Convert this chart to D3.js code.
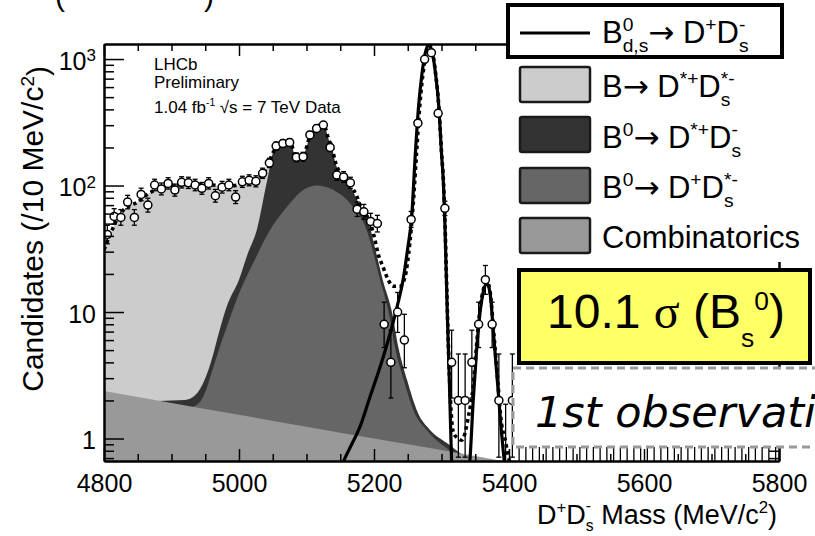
<!DOCTYPE html>
<html><head><meta charset="utf-8">
<script src="https://cdn.jsdelivr.net/npm/d3@7"></script>
<style>
body{margin:0;background:#fff}
svg{display:block}
text{font-family:"Liberation Sans",Arial,sans-serif;fill:#000;white-space:pre}
</style>
</head><body><svg id="c" width="815" height="536"></svg>
<script>
// ---------------- data ----------------
const binStart = 4805, binWidth = 10;
const counts = [41,57,56,74,56,85,70,101,94,104,
  92,106,105,101,95,104,83,97,101,81,
  107,110,108,125,151,205,215,219,167,169,
  251,283,301,200,121,117,105,65,62,52,
  50,8,4,10,6,54,311,994,1122,372,
  66,4,2,2,4,8,18,8,2,0,
  2,0,0,0,0,0,0,0,0,0,
  0,0,0,0,0,0,0,0,0,0,
  0,0,0,0,0,0,0,0,0,0,
  0,0,0,0,0,0,0,0,0,0];
const xTicks = [4800,5000,5200,5400,5600,5800];
const yTicks = [1,10,100,1000];

const combTop = [[4800,2.37],[4900,1.91],[5000,1.54],[5100,1.24],[5200,1.0],[5300,0.81],[5400,0.65]];
const medTop = [[4932,1.78],[4947,2.14],[4962,3.67],[4975,6.0],[4985,8.5],[5000,14],[5021,24.4],[5046,44.5],[5071,67.5],[5095,92],[5115,100],[5140,92],[5169,67.5],[5189,44.5],[5200,28],[5209,17.9],[5222,9.8],[5231,5.3],[5244,2.9],[5260,1.6],[5278,1.17],[5300,0.9],[5320,0.76]];
const darkTop = [[4880,1.98],[4900,2.0],[4920,2.02],[4935,2.2],[4950,3.0],[4960,4.3],[4970,6.8],[4983,11.5],[5000,18],[5012,28],[5027,46],[5041,105],[5053,200],[5060,215],[5068,228],[5076,222],[5084,168],[5090,165],[5097,180],[5105,245],[5112,285],[5120,302],[5127,290],[5133,230],[5138,198],[5142,157],[5150,122],[5164,101],[5175,77],[5183,64],[5190,56],[5201,33],[5213,17.9],[5227,9.8],[5236,5.3],[5249,2.9],[5265,1.6],[5283,1.17],[5308,0.92],[5330,0.75]];
const lightTop = [[4800,31],[4810,42],[4820,55],[4830,65],[4840,70],[4850,74],[4860,82],[4870,89],[4880,95],[4890,98],[4900,100],[4920,102],[4940,102],[4960,101],[4980,99],[5000,101],[5010,104],[5020,108],[5030,115],[5040,135],[5050,180],[5058,210],[5064,220],[5070,0.3]];
const totalFit = [[4800,31],[4810,42],[4820,55],[4830,65],[4840,70],[4850,74],[4860,82],[4870,89],[4880,95],[4890,98],[4900,100],[4920,102],[4940,102],[4960,101],[4980,99],[5000,101],[5010,104],[5020,108],[5030,115],[5040,135],[5050,180],[5058,210],[5068,228],[5076,222],[5084,168],[5090,165],[5097,180],[5105,245],[5112,285],[5120,302],[5127,290],[5133,230],[5138,200],[5142,159],[5150,125],[5164,104],[5175,81],[5182,64],[5194,52],[5201,38],[5206,29],[5213,23],[5221,18],[5228,16],[5239,16],[5246,19],[5253,35],[5258,70],[5263,180],[5268,440],[5273,800],[5278,1150],[5281,1290],[5286,1160],[5291,790],[5296,425],[5300,185],[5303,105],[5305,55],[5308,14],[5311,4],[5314,1.7],[5318,1.1],[5325,1.0],[5330,0.97],[5340,1.5],[5347,2.6],[5352,5.5],[5357,10.5],[5362,15],[5367,17.5],[5372,14.5],[5377,7.3],[5383,3.0],[5389,1.3],[5394,1.0],[5399,0.72],[5404,0.6]];
const signal = [[5150,0.55],[5155,0.66],[5167,0.9],[5179,1.23],[5194,2.13],[5209,3.67],[5224,6.8],[5234,10.9],[5243,17.9],[5250,32],[5256,58],[5261,170],[5266,420],[5271,760],[5276,1120],[5281,1290],[5286,1150],[5291,780],[5296,420],[5300,180],[5303,100],[5305,50],[5308.6,9.8],[5311.6,2.9],[5313.6,1.17],[5315,0.66],[5317,0.45],[5329,0.2],[5339,0.45],[5342,0.66],[5347,2.0],[5352,5.0],[5357,9.8],[5362,14.5],[5367,16.9],[5372,14.1],[5377,6.8],[5383,2.75],[5389,1.1],[5393,0.66],[5396,0.45]];

// ---------------- setup ----------------
const svg = d3.select('#c');
const L = 104, R = 779, T = 44, B = 461;
const x = d3.scaleLinear().domain([4800,5800]).range([L,R]);
const y = d3.scaleLog().domain([0.664,1315]).range([B,T]);

svg.append('defs').append('clipPath').attr('id','plot')
  .append('rect').attr('x',L).attr('y',T).attr('width',R-L).attr('height',B-T);
const plot = svg.append('g').attr('clip-path','url(#plot)');

function areaOf(arr, fill){
  plot.append('path').datum(arr).attr('fill',fill).attr('stroke','none')
    .attr('d', d3.area().x(d=>x(d[0])).y0(B+5).y1(d=>y(d[1])).curve(d3.curveMonotoneX));
}
areaOf(lightTop,'#cccccc');
areaOf(darkTop,'#333333');
areaOf(medTop,'#666666');
areaOf(combTop,'#999999');

const line = d3.line().x(d=>x(d[0])).y(d=>y(d[1])).curve(d3.curveMonotoneX);
plot.append('path').datum(signal).attr('fill','none').attr('stroke','#000').attr('stroke-width',3.2).attr('d',line);
plot.append('path').datum(totalFit).attr('fill','none').attr('stroke','#000').attr('stroke-width',3.6)
  .attr('stroke-dasharray','3.5,3.5').attr('d',line);

// data points with Poisson (Gehrels) errors
const pts = counts.map((n,i)=>({m: binStart + i*binWidth, n,
  hi: n + Math.sqrt(n+0.75) + 1,
  lo: n===0 ? 0 : n*Math.pow(1 - 1/(9*n) - 1/(3*Math.sqrt(n)),3)}));
const pg = plot.append('g');
pts.forEach(p=>{
  const px = x(p.m);
  const yl = p.lo>0 ? y(p.lo) : B+10;
  const yh = y(p.hi);
  pg.append('line').attr('x1',px).attr('x2',px).attr('y1',yl).attr('y2',yh).attr('stroke','#000').attr('stroke-width',1.3);
  pg.append('line').attr('x1',px-2.5).attr('x2',px+2.5).attr('y1',yh).attr('y2',yh).attr('stroke','#000').attr('stroke-width',1.3);
  if (p.lo>0) pg.append('line').attr('x1',px-2.5).attr('x2',px+2.5).attr('y1',yl).attr('y2',yl).attr('stroke','#000').attr('stroke-width',1.3);
  if (p.n>0) pg.append('circle').attr('cx',px).attr('cy',y(p.n)).attr('r',4).attr('fill','#fff').attr('stroke','#000').attr('stroke-width',1.5);
});

// ---------------- axes ----------------
const minorX = d3.range(4800,5801,50).filter(v=>v%200!==0);
const minorY = [0.7,0.8,0.9,2,3,4,5,6,7,8,9,20,30,40,50,60,70,80,90,200,300,400,500,600,700,800,900];
function styleAxis(g){
  g.selectAll('path.domain').attr('stroke','#000').attr('stroke-width',2);
  g.selectAll('.tick line').attr('stroke','#000').attr('stroke-width',1.5);
}
const gxb = svg.append('g').attr('transform',`translate(0,${B})`)
  .call(d3.axisBottom(x).tickValues(xTicks).tickSize(-12).tickSizeOuter(0).tickPadding(13).tickFormat(d3.format('d')));
gxb.selectAll('text').style('font-size','25px').style('font-family','"Liberation Sans",Arial,sans-serif');
svg.append('g').attr('transform',`translate(0,${B})`).call(d3.axisBottom(x).tickValues(minorX).tickSize(-7).tickSizeOuter(0).tickFormat('')).call(styleAxis);
styleAxis(gxb);
svg.append('g').attr('transform',`translate(0,${T})`).call(d3.axisTop(x).tickValues(xTicks).tickSize(-12).tickSizeOuter(0).tickFormat('')).call(styleAxis);
svg.append('g').attr('transform',`translate(0,${T})`).call(d3.axisTop(x).tickValues(minorX).tickSize(-7).tickSizeOuter(0).tickFormat('')).call(styleAxis);

const gyl = svg.append('g').attr('transform',`translate(${L},0)`)
  .call(d3.axisLeft(y).tickValues(yTicks).tickSize(-20).tickSizeOuter(0).tickPadding(8).tickFormat(d3.format('d')));
styleAxis(gyl);
gyl.selectAll('text').style('font-size','25px').style('font-family','"Liberation Sans",Arial,sans-serif').attr('dy','0.4em')
  .each(function(d){
    if (d>=100){
      const t = d3.select(this); t.text('10');
      t.append('tspan').attr('dy','-0.5em').style('font-size','17px').text(d===100?'2':'3');
    }
  });
svg.append('g').attr('transform',`translate(${L},0)`).call(d3.axisLeft(y).tickValues(minorY).tickSize(-10).tickSizeOuter(0).tickFormat('')).call(styleAxis);
svg.append('g').attr('transform',`translate(${R},0)`).call(d3.axisRight(y).tickValues(yTicks).tickSize(-20).tickSizeOuter(0).tickFormat('')).call(styleAxis);
svg.append('g').attr('transform',`translate(${R},0)`).call(d3.axisRight(y).tickValues(minorY).tickSize(-10).tickSizeOuter(0).tickFormat('')).call(styleAxis);

// ---------------- rich text helper ----------------
const ARROW = '"DejaVu Sans",sans-serif';
function rich(g, x0, y0, size, parts){
  let cx = x0;
  parts.forEach(p=>{
    if (typeof p === 'string' || p.t){
      const s = typeof p === 'string' ? p : p.t;
      const t = g.append('text').attr('x',cx).attr('y',y0).style('font-size',size+'px').text(s);
      if (p.fam) t.style('font-family',p.fam);
      cx += t.node().getComputedTextLength();
    } else {
      let w = 0; const ss = (p.k||0.62)*size;
      if (p.sup){ const t = g.append('text').attr('x',cx).attr('y',y0-(p.up||0.40)*size).style('font-size',ss+'px').text(p.sup); w = Math.max(w,t.node().getComputedTextLength()); }
      if (p.sub){ const t = g.append('text').attr('x',cx).attr('y',y0+(p.dn||0.28)*size).style('font-size',ss+'px').text(p.sub); w = Math.max(w,t.node().getComputedTextLength()); }
      cx += w;
    }
  });
  return cx;
}

// ---------------- axis titles ----------------
const yt = svg.append('text').attr('transform','translate(43,66) rotate(-90)').attr('text-anchor','end').style('font-size','30px');
yt.append('tspan').text('Candidates (/10 MeV/c');
yt.append('tspan').attr('dy','-0.45em').style('font-size','19px').text('2');
yt.append('tspan').attr('dy','0.45em').text(')');

const xtg = svg.append('g');
const xtW = rich(xtg, 0, 524, 27, ['D',{sup:'+'},'D',{sub:'s',sup:'-',dn:0.25,up:0.5,k:0.58},' Mass (MeV/c',{sup:'2'},')']);
xtg.attr('transform',`translate(${777-xtW},0)`);

// ---------------- annotations ----------------
const info = svg.append('g').style('font-size','17px');
info.append('text').attr('x',154).attr('y',70).text('LHCb');
info.append('text').attr('x',154).attr('y',88).text('Preliminary');
rich(info, 154, 113, 17, ['1.04 fb',{sup:'-1',k:0.6},' √s = 7 TeV Data']);

svg.append('text').attr('x',55).attr('y',6).style('font-size','30px').text('(');
svg.append('text').attr('x',204).attr('y',6).style('font-size','30px').text(')');

// ---------------- legend ----------------
svg.append('rect').attr('x',508).attr('y',57).attr('width',307).attr('height',205).attr('fill','#fff');
svg.append('rect').attr('x',508).attr('y',5).attr('width',274).attr('height',52).attr('fill','#fff').attr('stroke','#000').attr('stroke-width',4);
const lg = svg.append('g');
lg.append('line').attr('x1',520).attr('x2',590).attr('y1',33).attr('y2',33).attr('stroke','#000').attr('stroke-width',3);
const LS = 31;
rich(lg, 602, 43, LS, ['B',{sup:'0',sub:'d,s'},{t:'→',fam:ARROW},' D',{sup:'+'},'D',{sup:'-',sub:'s'}]);
const legFills = ['#cccccc','#333333','#666666','#999999'];
const legY = [67,117,168,218];
legFills.forEach((f,i)=>{
  lg.append('rect').attr('x',520).attr('y',legY[i]).attr('width',70).attr('height',35).attr('rx',2)
    .attr('fill',f).attr('stroke','#1a1a1a').attr('stroke-width',2.5);
});
rich(lg, 602, 97, LS, ['B',{t:'→',fam:ARROW},' D',{sup:'*+'},'D',{sup:'*-',sub:'s'}]);
rich(lg, 602, 148, LS, ['B',{sup:'0'},{t:'→',fam:ARROW},' D',{sup:'*+'},'D',{sup:'-',sub:'s'}]);
rich(lg, 602, 198, LS, ['B',{sup:'0'},{t:'→',fam:ARROW},' D',{sup:'+'},'D',{sup:'*-',sub:'s'}]);
rich(lg, 602, 248, LS, ['Combinatorics']);

// ---------------- significance box ----------------
svg.append('rect').attr('x',519).attr('y',270).attr('width',291).attr('height',93).attr('fill','#ffff66').attr('stroke','#000').attr('stroke-width',4);
rich(svg.append('g'), 547, 328, 48, ['10.1 ',{t:'σ',fam:'"Liberation Serif",serif'},' (B',{sub:'s',k:0.55,dn:0.4},{sup:'0',k:0.55,up:0.38},')']);

// ---------------- first observation box ----------------
svg.append('rect').attr('x',513).attr('y',368).attr('width',330).attr('height',79).attr('fill','#fff')
  .attr('stroke','#999').attr('stroke-width',3).attr('stroke-dasharray','8,5');
svg.append('text').attr('x',535).attr('y',427).style('font-family','"DejaVu Sans",sans-serif').style('font-style','italic').style('font-size','43px').text('1st observati');
</script></body></html>
